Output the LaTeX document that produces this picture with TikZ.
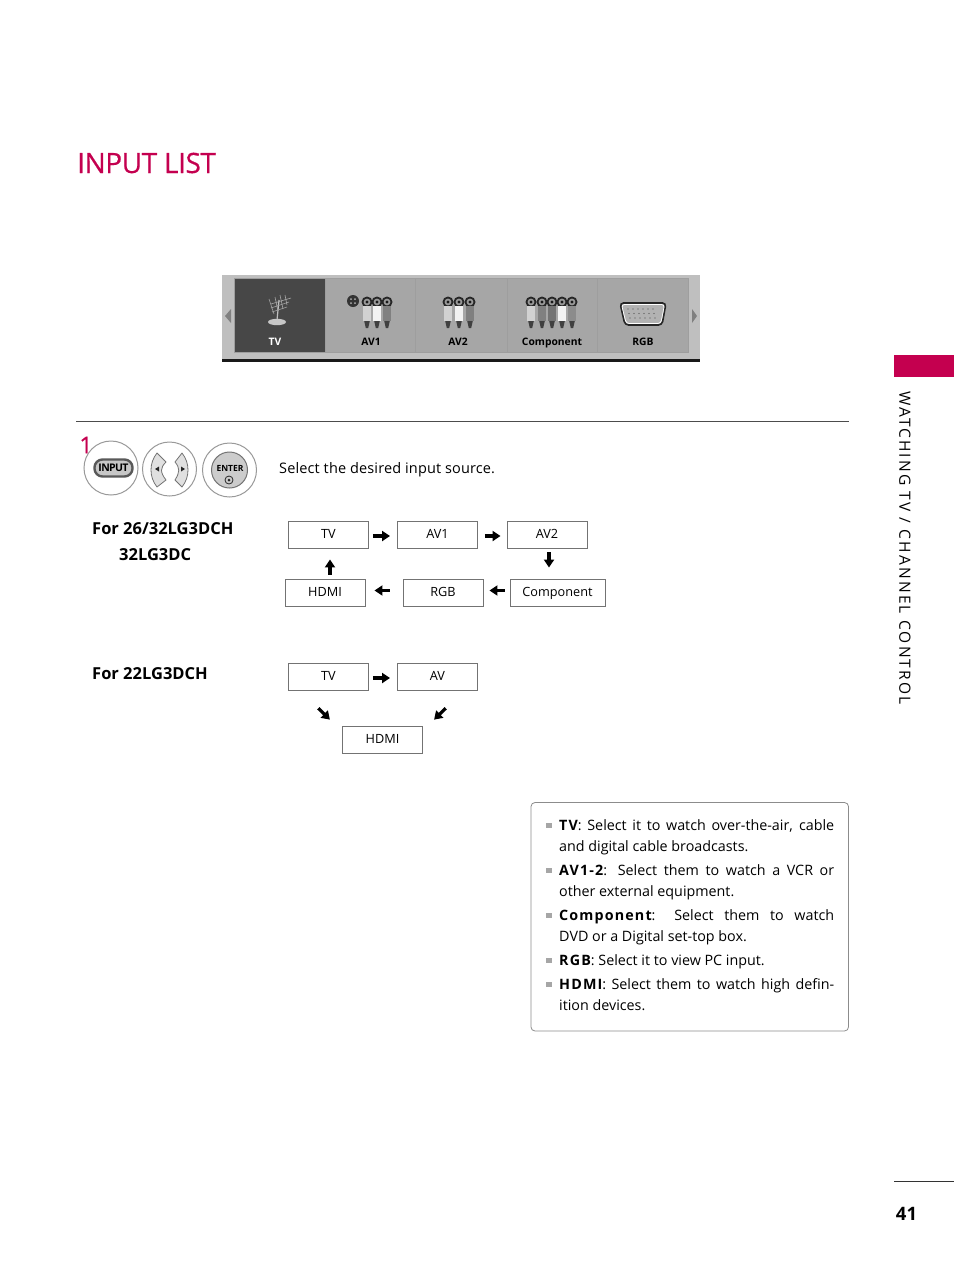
\documentclass[tikz,border=0pt]{standalone}
\usepackage{fontspec}
\setmainfont{Open Sans}
\usetikzlibrary{arrows.meta,positioning}
\definecolor{lgpink}{HTML}{C4004F}
\tikzset{
  listbox/.style={draw=black!55,line width=.9pt,fill=white,minimum width=80pt,minimum height=27pt,
    inner sep=0pt,font=\fontsize{12.7}{14}\selectfont,text depth=0pt},
  flow/.style={-{Triangle[length=8pt,width=10pt]},line width=3.2pt,black},
  cell/.style={draw=black!38,line width=.6pt,fill=black!35,minimum height=74pt,inner sep=0pt},
  celltext/.style={anchor=base,font=\fontsize{10.3}{11}\bfseries\selectfont,inner sep=0pt},
  keypad/.style={circle,draw=black!40,line width=1pt,minimum size=54pt,inner sep=0pt,fill=white},
  modeltext/.style={anchor=west,inner sep=0pt,font=\fontsize{16.5}{18}\selectfont\bfseries},
  note/.style={anchor=north west,inner sep=0pt,text width=275pt,align=justify,
    font=\fontsize{14.3}{21}\selectfont},
  notemark/.style={fill=black!35,minimum size=5.5pt,inner sep=0pt},
}
\newcommand{\notekey}[1]{{\bfseries\addfontfeatures{LetterSpace=8}#1}}
% one plug of the input icons
\newcommand{\plugicon}[2]{
  \fill[black!85] (#1,302) circle (5.5pt);
  \fill[black!40] (#1,302) circle (3.4pt);
  \fill[black!90] (#1,302) circle (1.6pt);
  \fill[#2] (#1-3.6,306) rectangle (#1+3.6,321);
  \fill[black!75] (#1-2.8,321) -- (#1+2.8,321) -- (#1+1.2,328) -- (#1-1.2,328) -- cycle;
}
\begin{document}
\begin{tikzpicture}[x=1pt,y=-1pt]
  \useasboundingbox (0,0) rectangle (954,1272);

  \node[anchor=west,inner sep=0pt,text=lgpink,font=\fontsize{28}{30}\selectfont] (title) at (77,163) {\addfontfeatures{FakeBold=.4,LetterSpace=-1.5}INPUT LIST};

  % input bar
  \fill[black!25] (222,275) rectangle (700,359);
  \fill[black!90] (222,359) rectangle (700,362);
  \fill[black!50] (225,316) -- (231,309) -- (231,323) -- cycle;
  \fill[black!50] (697,316) -- (692,309) -- (692,323) -- cycle;
  \node[cell,fill=black!72,minimum width=91pt] (tvcell) at (279.5,315) {};
  \node[cell,minimum width=90pt] (avonecell) at (370,315) {};
  \node[cell,minimum width=92pt] (avtwocell) at (461,315) {};
  \node[cell,minimum width=90pt] (compcell) at (552,315) {};
  \node[cell,minimum width=91pt] (rgbcell) at (642.5,315) {};
  \node[celltext,text=white] (tvname) at (275,345) {TV};
  \node[celltext] (avonename) at (371,345) {AV1};
  \node[celltext] (avtwoname) at (458,345) {AV2};
  \node[celltext] (compname) at (552,345) {Component};
  \node[celltext] (rgbname) at (643,345) {RGB};

  % antenna
  \draw[black!25,line width=1.2pt] (279,300) -- (277,320);
  \draw[black!35,line width=.6pt] (271,304) -- (291,298) (271,308) -- (289,302) (272,312) -- (287,307)
    (269,299) -- (274,314) (275,297) -- (278,311) (280,295) -- (283,309) (285,295) -- (287,305);
  \fill[black!22] (277,322) ellipse (9pt and 3.2pt);
  % s-video and plugs
  \fill[black!80] (353,301) circle (6pt);
  \fill[black!30] (351,299) circle (1pt) (355,299) circle (1pt) (351,303) circle (1pt) (355,303) circle (1pt);
  \plugicon{367}{black!18}
  \plugicon{377}{black!5}
  \plugicon{387}{black!50}
  \plugicon{448}{black!18}
  \plugicon{459}{black!5}
  \plugicon{470}{black!50}
  \plugicon{531}{black!18}
  \plugicon{542}{black!50}
  \plugicon{552}{black!55}
  \plugicon{562}{black!5}
  \plugicon{572}{black!45}
  % rgb socket
  \draw[black!85,line width=1.6pt,fill=black!30,rounded corners=3.5pt] (620,303) -- (666,303) -- (662,325) -- (625,325) -- cycle;
  \draw[white,line width=.7pt,rounded corners=3pt] (621.5,304.5) -- (664.5,304.5) -- (660.8,323.5) -- (626.2,323.5) -- cycle;
  \foreach \dotx in {628,633,...,653}
    \fill[black!70] (\dotx,309) circle (.6pt) (\dotx+1,313.5) circle (.6pt) (\dotx+2,318) circle (.6pt);

  \draw[black!70,line width=.6pt] (76,421) -- (849,421);

  % remote keys
  \node[keypad] (inputkey) at (111,468) {};
  \node[keypad] (arrowkey) at (169.5,469) {};
  \node[keypad] (enterkey) at (229.5,470) {};
  \node[draw=black!65,line width=2.4pt,fill=black!22,rounded corners=8pt,minimum width=38pt,minimum height=17pt,
    inner sep=0pt,font=\fontsize{10.5}{11}\bfseries\selectfont] (inputpill) at (113.5,468) {\addfontfeatures{LetterSpace=-6}INPUT};
  \node[anchor=center,inner sep=0pt,text=lgpink,font=\fontsize{23}{24}\selectfont] (stepnum) at (86,445) {\addfontfeatures{FakeBold=.5}1};
  \draw[black!55,line width=.8pt,fill=black!12,line join=round] (157,453) -- (166,462) .. controls (160,468) and (160,472) .. (166,480)
    -- (157,487) .. controls (149,477) and (149,463) .. (157,453) -- cycle;
  \draw[black!55,line width=.8pt,fill=black!12,line join=round] (182,453) -- (175,462) .. controls (180,468) and (180,472) .. (175,480)
    -- (182,487) .. controls (190,477) and (190,463) .. (182,453) -- cycle;
  \fill[black!85] (155,469) -- (159,466.5) -- (159,471.5) -- cycle;
  \fill[black!85] (185,469) -- (181,466.5) -- (181,471.5) -- cycle;
  \draw[black!55,line width=1pt,fill=black!20] (229.5,470) circle (18pt);
  \node[inner sep=0pt,font=\fontsize{8.5}{9}\bfseries\selectfont] (entername) at (230,468) {ENTER};
  \draw[black!85,line width=.8pt] (229,480) circle (4pt);
  \fill[black!85] (229,480) circle (1.5pt);

  \node[anchor=west,inner sep=0pt,font=\fontsize{14.5}{16}\selectfont] (selecttext) at (279,470) {\addfontfeatures{LetterSpace=1}Select the desired input source.};

  \node[modeltext] (modelone) at (92,529) {For 26/32LG3DCH};
  \node[modeltext] (modeltwo) at (119,555) {32LG3DC};
  \node[modeltext] (modelthree) at (92,674) {For 22LG3DCH};

  % first input order
  \node[listbox] (tv) at (328.5,534.5) {\raisebox{2pt}{TV}};
  \node[listbox] (avone) at (437.5,534.5) {\raisebox{2pt}{AV1}};
  \node[listbox] (avtwo) at (547,534.5) {\raisebox{2pt}{AV2}};
  \node[listbox] (hdmi) at (325,592.5) {\raisebox{2pt}{HDMI}};
  \node[listbox] (rgb) at (443,592.5) {\raisebox{2pt}{RGB}};
  \node[listbox,minimum width=95pt] (comp) at (557.5,592.5) {\raisebox{2pt}{Component}};
  \draw[flow,shorten <=4pt,shorten >=7pt] ([yshift=-1.5]tv.east) -- ([yshift=-1.5]avone.west);
  \draw[flow,shorten <=7pt,shorten >=6pt] ([yshift=-1.5]avone.east) -- ([yshift=-1.5]avtwo.west);
  \draw[flow,shorten <=4pt,shorten >=11pt] ([xshift=2]avtwo.south) -- ([xshift=-8.5]comp.north);
  \draw[flow,shorten <=5pt,shorten >=6pt] ([yshift=2]comp.west) -- ([yshift=2]rgb.east);
  \draw[flow,shorten <=13pt,shorten >=9pt] ([yshift=2]rgb.west) -- ([yshift=2]hdmi.east);
  \draw[flow,shorten <=4pt,shorten >=11pt] ([xshift=5]hdmi.north) -- ([xshift=1.5]tv.south);

  % second input order
  \node[listbox] (tvb) at (328.5,676.5) {\raisebox{2pt}{TV}};
  \node[listbox] (avb) at (437.5,676.5) {\raisebox{2pt}{AV}};
  \node[listbox] (hdmib) at (382.5,739.5) {\raisebox{2pt}{HDMI}};
  \draw[flow,shorten <=4pt,shorten >=7pt] ([yshift=-1.5]tvb.east) -- ([yshift=-1.5]avb.west);
  \draw[flow,shorten <=25.5pt,shorten >=8.5pt] ([xshift=-28.5]tvb.south) -- ([xshift=-46.5]hdmib.north);
  \draw[flow,shorten <=25.5pt,shorten >=8.5pt] ([xshift=26.5]avb.south) -- ([xshift=45.5]hdmib.north);

  % notes
  \draw[black!45,line width=.8pt,rounded corners=4pt] (531,802.5) rectangle (848.5,1031);
  \foreach \marky in {825.5,870.5,915.5,960.5,984.5}
    \node[notemark] at (549,\marky) {};
  \node[note] (notetv) at (559,819.5) {\notekey{TV}: Select it to watch over-the-air, cable\linebreak and digital cable broadcasts.};
  \node[note] (noteav) at (559,864.5) {\notekey{AV1-2}: Select them to watch a VCR or\linebreak other external equipment.};
  \node[note] (notecomp) at (559,909.5) {\notekey{Component}: Select them to watch\linebreak DVD or a Digital set-top box.};
  \node[note] (notergb) at (559,954.5) {\notekey{RGB}: Select it to view PC input.};
  \node[note] (notehdmi) at (559,978.5) {\notekey{HDMI}: Select them to watch high defin-\linebreak ition devices.};

  % side tab and page number
  \fill[lgpink] (894,355) rectangle (954,377);
  \node[rotate=-90,anchor=west,inner sep=0pt,font=\fontsize{15.5}{17}\selectfont] (sidetext) at (905,391) {\addfontfeatures{LetterSpace=14}WATCHING TV / CHANNEL CONTROL};
  \draw[black!80,line width=.7pt] (894,1181) -- (954,1181);
  \node[inner sep=0pt,font=\fontsize{18.5}{20}\bfseries\selectfont] (pagenum) at (906.5,1214) {41};
\end{tikzpicture}
\end{document}
